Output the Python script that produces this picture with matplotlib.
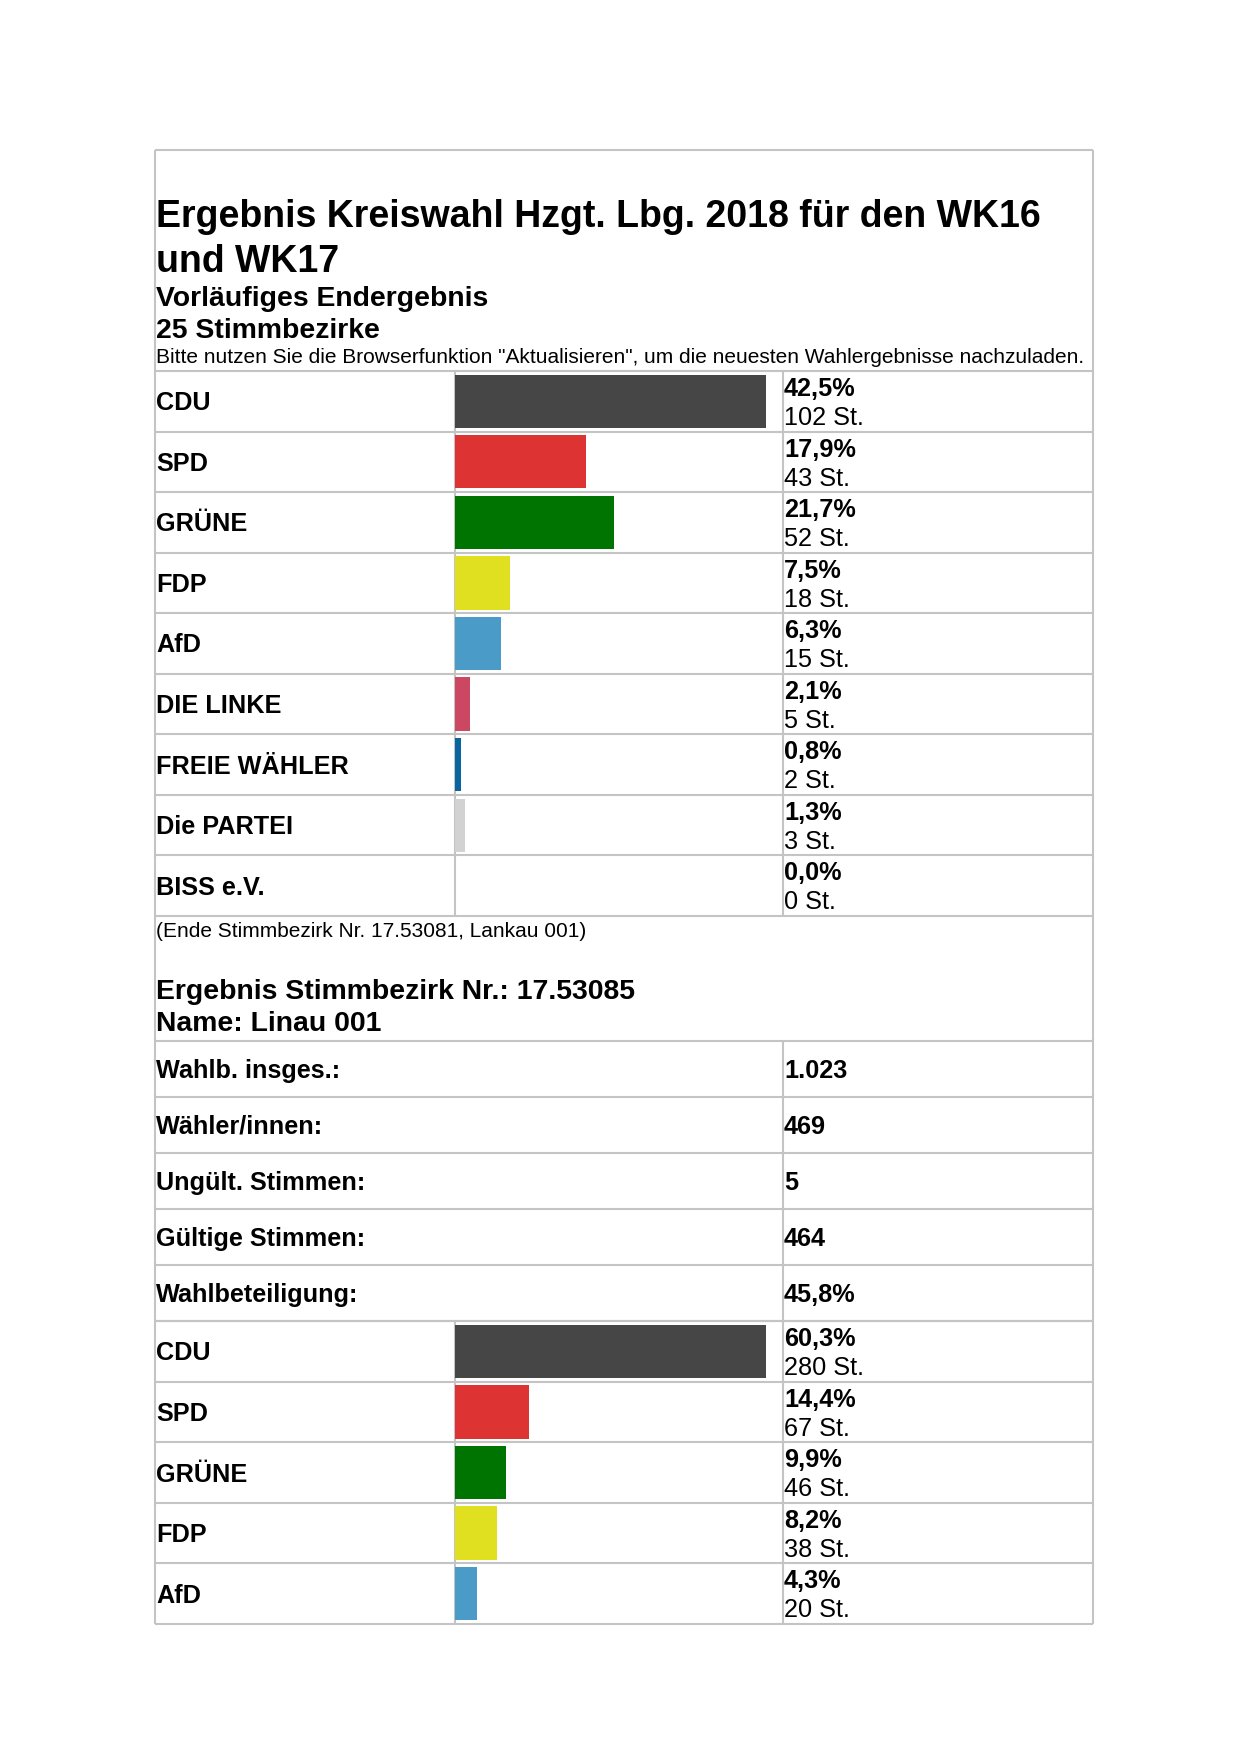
import matplotlib
matplotlib.use("Agg")
import matplotlib.pyplot as plt
from matplotlib.lines import Line2D
from matplotlib import font_manager as fm

# ---------------- data ----------------
title_lines = ["Ergebnis Kreiswahl Hzgt. Lbg. 2018 für den WK16", "und WK17"]
subtitle_lines = ["Vorläufiges Endergebnis", "25 Stimmbezirke"]
note = 'Bitte nutzen Sie die Browserfunktion "Aktualisieren", um die neuesten Wahlergebnisse nachzuladen.'

parties1 = ["CDU", "SPD", "GRÜNE", "FDP", "AfD", "DIE LINKE", "FREIE WÄHLER", "Die PARTEI", "BISS e.V."]
pct1 = [42.5, 17.9, 21.7, 7.5, 6.3, 2.1, 0.8, 1.3, 0.0]
votes1 = [102, 43, 52, 18, 15, 5, 2, 3, 0]

end_note = "(Ende Stimmbezirk Nr. 17.53081, Lankau 001)"
section2_lines = ["Ergebnis Stimmbezirk Nr.: 17.53085", "Name: Linau 001"]

stat_labels = ["Wahlb. insges.:", "Wähler/innen:", "Ungült. Stimmen:", "Gültige Stimmen:", "Wahlbeteiligung:"]
stat_values = ["1.023", "469", "5", "464", "45,8%"]

parties2 = ["CDU", "SPD", "GRÜNE", "FDP", "AfD"]
pct2 = [60.3, 14.4, 9.9, 8.2, 4.3]
votes2 = [280, 67, 46, 38, 20]

party_colors = {
    "CDU": "#464646", "SPD": "#DD3333", "GRÜNE": "#007400", "FDP": "#E1E020",
    "AfD": "#4A9BC8", "DIE LINKE": "#CC4762", "FREIE WÄHLER": "#0A64A0",
    "Die PARTEI": "#D2D2D2", "BISS e.V.": "#FFFFFF",
}

# ---------------- layout (pixels) ----------------
W, H = 1240, 1754
DPI = 100
_names = {f.name for f in fm.fontManager.ttflist}
FONT = next((n for n in ["Liberation Sans", "Arimo", "Arial", "Helvetica"] if n in _names), "DejaVu Sans")
LINE_C = "#c4c4c4"
LW = 1.5

X_L, X_R = 155, 1093
X_BAR0, X_VAL = 455, 783
BAR_MAX_END = 766
TOP = 150
T1_TOP, T1_BOT = 371, 916
STAT_TOP, STAT_BOT = 1041, 1321
T2_TOP, T2_BOT = 1321, 1624

S_TITLE = 37.5
S_SUB = 28.4
S_NOTE = 20.9
S_ROW = 25.3

def pt(px):
    return px * 72.0 / DPI

fig = plt.figure(figsize=(W / DPI, H / DPI), dpi=DPI)
fig.patch.set_facecolor("white")
main = fig.add_axes([0, 0, 1, 1])
main.set_xlim(0, W)
main.set_ylim(H, 0)
main.axis("off")

def txt(x, y, s, size_px, bold=False):
    main.text(x, y, s, fontsize=pt(size_px), fontweight="bold" if bold else "normal",
              family=FONT, va="baseline", ha="left", color="black")

def hline(y, x0=X_L, x1=X_R):
    main.add_line(Line2D([x0, x1], [y, y], color=LINE_C, lw=LW, solid_capstyle="butt"))

def vline(x, y0, y1):
    main.add_line(Line2D([x, x], [y0, y1], color=LINE_C, lw=LW, solid_capstyle="butt"))

# outer border
hline(TOP)
vline(X_L, TOP, T2_BOT)
vline(X_R, TOP, T2_BOT)

# header texts
txt(156, 227, title_lines[0], S_TITLE, True)
txt(156, 272, title_lines[1], S_TITLE, True)
txt(156, 306, subtitle_lines[0], S_SUB, True)
txt(156, 338.5, subtitle_lines[1], S_SUB, True)
txt(156, 363, note, S_NOTE, False)

def fmt_pct(v):
    return f"{v:.1f}".replace(".", ",") + "%"

def party_table(parties, pcts, votes, top, bot):
    n = len(parties)
    rh = (bot - top) / n
    # bar axes using the library's scale
    ax = fig.add_axes([X_BAR0 / W, 1 - bot / H, (X_VAL - X_BAR0) / W, (bot - top) / H])
    ax.set_xlim(0, max(pcts) * (X_VAL - X_BAR0) / (BAR_MAX_END - X_BAR0))
    ax.set_ylim(n - 0.5, -0.5)
    ax.axis("off")
    ax.barh(range(n), pcts, height=0.88, left=0,
            color=[party_colors[p] for p in parties], edgecolor="none")
    for i in range(n + 1):
        hline(top + i * rh)
    vline(X_BAR0, top, bot)
    vline(X_VAL, top, bot)
    for i, (p, v, c) in enumerate(zip(parties, pcts, votes)):
        y0 = top + i * rh
        txt(156, y0 + rh / 2 + 9, p, S_ROW, True)
        txt(784, y0 + 25, fmt_pct(v), S_ROW, True)
        txt(784, y0 + 54, f"{c} St.", S_ROW, False)

party_table(parties1, pct1, votes1, T1_TOP, T1_BOT)

txt(156, 937, end_note, S_NOTE, False)
txt(156, 999, section2_lines[0], S_SUB, True)
txt(156, 1031, section2_lines[1], S_SUB, True)

# stats table
n_s = len(stat_labels)
srh = (STAT_BOT - STAT_TOP) / n_s
for i in range(n_s + 1):
    hline(STAT_TOP + i * srh)
vline(X_VAL, STAT_TOP, STAT_BOT)
for i, (lab, val) in enumerate(zip(stat_labels, stat_values)):
    yc = STAT_TOP + i * srh + srh / 2 + 9
    txt(156, yc, lab, S_ROW, True)
    txt(784, yc, val, S_ROW, True)

party_table(parties2, pct2, votes2, T2_TOP, T2_BOT)

fig.savefig("out.png", dpi=DPI, facecolor="white")
